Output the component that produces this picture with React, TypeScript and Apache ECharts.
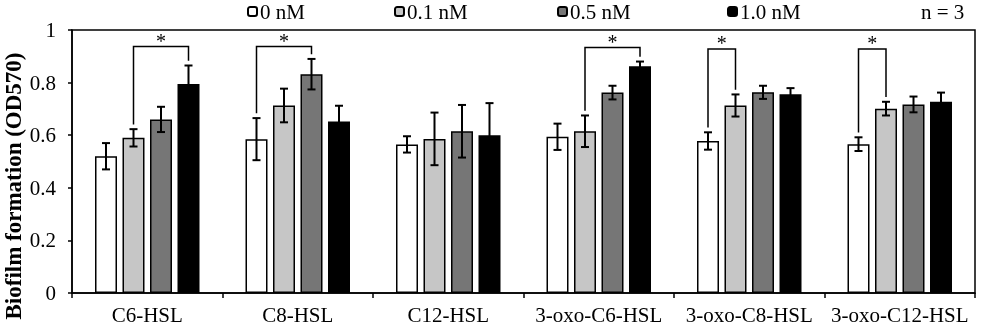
import React, { useEffect, useRef } from "react";
import * as echarts from "echarts";

const categories = ["C6-HSL", "C8-HSL", "C12-HSL", "3-oxo-C6-HSL", "3-oxo-C8-HSL", "3-oxo-C12-HSL"];
const seriesNames = ["0 nM", "0.1 nM", "0.5 nM", "1.0 nM"];
const mean0 = [0.52, 0.585, 0.565, 0.594, 0.578, 0.566];
const mean01 = [0.59, 0.713, 0.586, 0.615, 0.713, 0.701];
const mean05 = [0.66, 0.832, 0.615, 0.762, 0.763, 0.717];
const mean10 = [0.795, 0.652, 0.6, 0.862, 0.756, 0.727];
const sd0 = [0.05, 0.08, 0.031, 0.05, 0.033, 0.026];
const sd01 = [0.033, 0.064, 0.1, 0.06, 0.042, 0.026];
const sd05 = [0.048, 0.058, 0.1, 0.026, 0.025, 0.03];
const sd10 = [0.07, 0.06, 0.122, 0.018, 0.023, 0.035];
const yTicks = [0, 0.2, 0.4, 0.6, 0.8, 1];
// significance brackets: category index, from series, to series, bracket height
const bracketCat = [0, 1, 3, 4, 5];
const bracketFrom = [1, 0, 1, 0, 0];
const bracketTo = [3, 2, 3, 1, 1];
const bracketY = [0.937, 0.937, 0.933, 0.928, 0.928];

const means = [mean0, mean01, mean05, mean10];
const sds = [sd0, sd01, sd05, sd10];
const colors = ["#ffffff", "#c6c6c6", "#767676", "#000000"];
const legendLeft = [247, 394, 557, 727];

const FONT = "'Liberation Serif', 'Times New Roman', serif";
const BAR_W = 22;
const GAP = 5.5;
const STEP = BAR_W + GAP;

export default function App() {
  const ref = useRef<HTMLDivElement>(null);
  useEffect(() => {
    if (!ref.current) return;
    const chart = echarts.init(ref.current, null, { renderer: "svg" });

    const errData: number[][] = [];
    means.forEach((m, s) => m.forEach((v, c) => errData.push([c, s, v, sds[s][c]])));

    const brData = bracketCat.map((c, i) => {
      const f = bracketFrom[i];
      const t = bracketTo[i];
      return [c, f, t, bracketY[i], means[f][c] + sds[f][c] + 0.018, means[t][c] + sds[t][c] + 0.018];
    });

    const barSeries = seriesNames.map((name, s) => ({
      type: "bar",
      name,
      data: means[s],
      barWidth: BAR_W,
      barGap: (GAP / BAR_W) * 100 + "%",
      itemStyle: { color: colors[s], borderColor: "#000", borderWidth: 1.5 },
      emphasis: { disabled: true },
    }));

    const option: any = {
      animation: false,
      grid: { left: 72, right: 6, top: 30, bottom: 36, show: true, borderColor: "#000", borderWidth: 1.5, backgroundColor: "transparent" },
      legend: seriesNames.map((n, i) => ({
        data: [n],
        left: legendLeft[i],
        top: 1,
        itemWidth: 9,
        itemHeight: 9,
        padding: 0,
        selectedMode: false,
        textStyle: { fontSize: 21, fontFamily: FONT, color: "#000", padding: [2, 0, 0, -2] },
      })),
      xAxis: {
        type: "category",
        data: categories,
        axisLine: { lineStyle: { color: "#000", width: 1.5 } },
        axisTick: { show: true, length: 5, lineStyle: { color: "#000", width: 1.5 } },
        axisLabel: { fontSize: 21, fontFamily: FONT, color: "#000", margin: 11, interval: 0 },
      },
      yAxis: {
        type: "value",
        min: 0,
        max: 1,
        interval: 0.2,
        splitLine: { show: false },
        axisLine: { show: true, lineStyle: { color: "#000", width: 1.5 } },
        axisTick: { show: true, length: 4, lineStyle: { color: "#000", width: 1.5 } },
        axisLabel: {
          fontSize: 21,
          fontFamily: FONT,
          color: "#000",
          margin: 16,
          formatter: (v: number) => {
            const t = yTicks.find((x) => Math.abs(x - v) < 1e-9);
            return String(t !== undefined ? t : v);
          },
        },
      },
      graphic: [
        {
          type: "text",
          x: 13,
          y: 186,
          rotation: Math.PI / 2,
          style: {
            text: "Biofilm formation (OD570)",
            font: `bold 23px ${FONT}`,
            fill: "#000",
            align: "center",
            verticalAlign: "middle",
          },
        },
        {
          type: "text",
          x: 921,
          y: 12,
          style: { text: "n = 3", font: `21px ${FONT}`, fill: "#000", align: "left", verticalAlign: "middle" },
        },
      ],
      series: [
        ...barSeries,
        {
          type: "custom",
          name: "err",
          data: errData,
          encode: { x: 0, y: 2 },
          z: 5,
          renderItem: (params: any, api: any) => {
            const c = api.value(0);
            const s = api.value(1);
            const m = api.value(2);
            const d = api.value(3);
            const top = api.coord([c, m + d]);
            const bot = api.coord([c, m - d]);
            const x = top[0] + (s - 1.5) * STEP;
            const hw = 4;
            const st = { stroke: "#000", lineWidth: 2, fill: null };
            return {
              type: "group",
              children: [
                { type: "line", shape: { x1: x, y1: top[1], x2: x, y2: bot[1] }, style: st },
                { type: "line", shape: { x1: x - hw, y1: top[1], x2: x + hw, y2: top[1] }, style: st },
                { type: "line", shape: { x1: x - hw, y1: bot[1], x2: x + hw, y2: bot[1] }, style: st },
              ],
            };
          },
        },
        {
          type: "custom",
          name: "sig",
          data: brData,
          encode: { x: 0, y: 3 },
          z: 6,
          renderItem: (params: any, api: any) => {
            const c = api.value(0);
            const f = api.value(1);
            const t = api.value(2);
            const yb = api.value(3);
            const pTop = api.coord([c, yb]);
            const pL = api.coord([c, api.value(4)]);
            const pR = api.coord([c, api.value(5)]);
            const xL = pTop[0] + (f - 1.5) * STEP;
            const xR = pTop[0] + (t - 1.5) * STEP;
            return {
              type: "group",
              children: [
                {
                  type: "polyline",
                  shape: { points: [[xL, pL[1]], [xL, pTop[1]], [xR, pTop[1]], [xR, pR[1]]] },
                  style: { stroke: "#000", lineWidth: 1.5, fill: null },
                },
                {
                  type: "text",
                  x: (xL + xR) / 2,
                  y: pTop[1] - 6,
                  style: { text: "*", font: `20px ${FONT}`, fill: "#000", align: "center", verticalAlign: "middle" },
                },
              ],
            };
          },
        },
      ],
    };
    chart.setOption(option);
    return () => chart.dispose();
  }, []);
  return <div ref={ref} style={{ position: "fixed", left: 0, top: 0, width: 981, height: 329 }} />;
}
